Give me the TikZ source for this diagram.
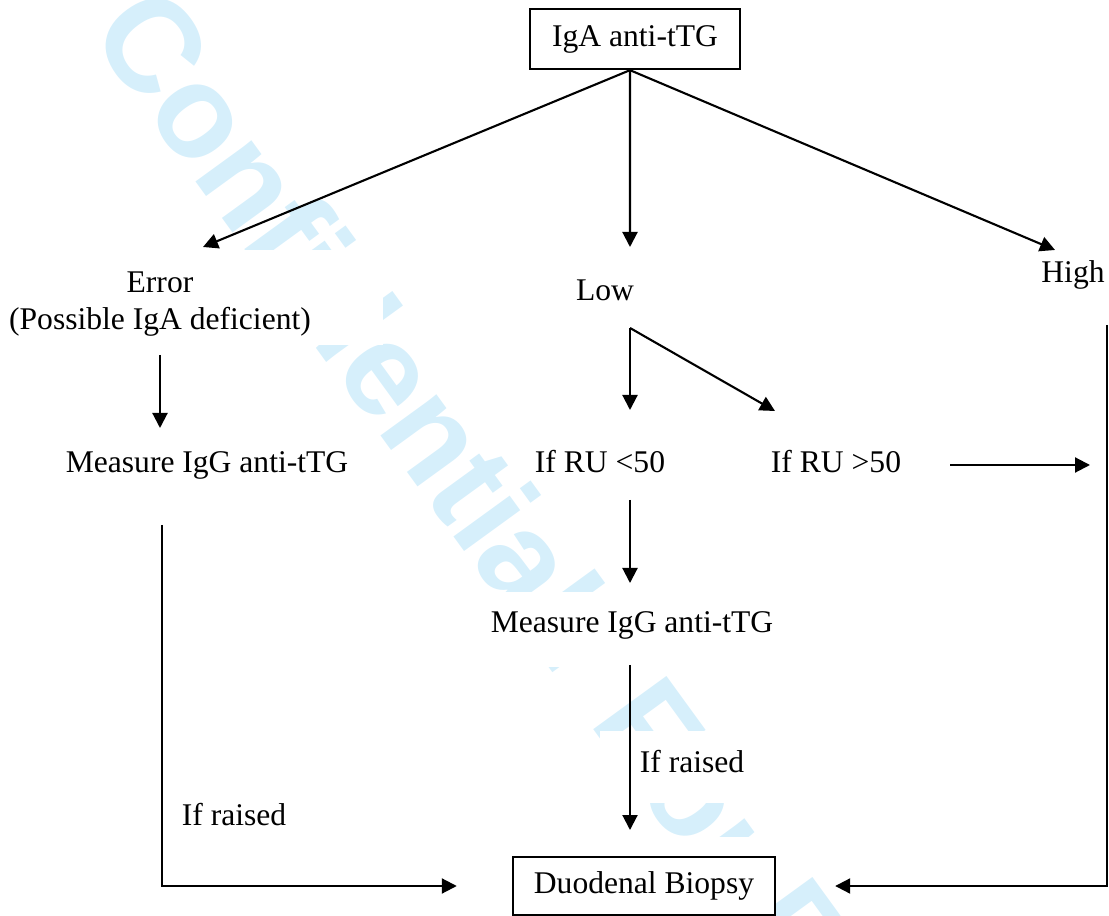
\documentclass[tikz,border=0pt]{standalone}
\usepackage{fontspec}
\setmainfont{Liberation Serif}
\newfontfamily\wmfont{Liberation Sans}
\usetikzlibrary{arrows.meta}
\definecolor{wmcyan}{RGB}{214,239,251}

\begin{document}
\begin{tikzpicture}[x=0.38pt,y=-0.38pt]
    \tikzstyle{every node}=[font=\fontsize{12}{13.8}\selectfont, inner sep=0pt]
    \tikzstyle{box}=[draw, line width=0.9pt, fill=white]
    \tikzstyle{lbl}=[align=center]
    \tikzstyle{arr}=[line width=0.8pt, -{Triangle[length=5.7pt,width=5.7pt]}]
    \tikzstyle{wmcover}=[fill=white]
    \useasboundingbox (0,0) rectangle (1109,916);
    % watermark behind the text boxes
    \node[anchor=base west, rotate=-54, text=wmcyan, font=\wmfont\bfseries\fontsize{50}{50}\selectfont] (wm) at (87,32) {Confidential: For Review Only};
    \fill[wmcover] (0,250) rectangle (383,345);
    \fill[wmcover] (30,435) rectangle (372,492);
    \fill[wmcover] (440,592) rectangle (800,667);
    \fill[wmcover] (600,731) rectangle (800,803);
    \fill[wmcover] (440,837) rectangle (775,916);
    % nodes
    \node[box, minimum width=79.8pt, minimum height=22.8pt] (top) at (635,39) {IgA anti-tTG};
    \node[lbl] (err) at (160,304) {Error\\(Possible IgA deficient)};
    \node (low) at (605,290) {Low};
    \node (high) at (1073,275) {High};
    \node (igg1) at (207,465) {Measure IgG anti-tTG};
    \node (rulo) at (600,462) {If RU <50};
    \node (ruhi) at (836,462) {If RU >50};
    \node (igg2) at (632,625) {Measure IgG anti-tTG};
    \node (raise2) at (692,762) {If raised};
    \node (raise1) at (234,815) {If raised};
    \node[box, minimum width=99.6pt, minimum height=22pt] (biopsy) at (644,886) {Duodenal Biopsy};
    % connector ends
    \coordinate (fork) at ([xshift=-1.9pt]top.south);
    \coordinate (errin) at (203,247);
    \coordinate (lowin) at (630,247);
    \coordinate (highin) at (1055,250);
    \coordinate (errout) at (160,355);
    \coordinate (igg1in) at (160,428);
    \coordinate (lowout) at (630,328);
    \coordinate (ruloin) at (630,410);
    \coordinate (ruhiin) at (775,411);
    \coordinate (ruhiout) at (950,465);
    \coordinate (highjoin) at (1090,465);
    \coordinate (highout) at (1107,325);
    \coordinate (igg1out) at (162,525);
    \coordinate (ruloout) at (630,500);
    \coordinate (igg2in) at (630,583);
    \coordinate (igg2out) at (630,665);
    \coordinate (biopsyin) at (630,830);
    % connectors
    \draw[arr] (fork) -- (errin);
    \draw[arr] (fork) -- (lowin);
    \draw[arr] (fork) -- (highin);
    \draw[arr] (errout) -- (igg1in);
    \draw[arr] (lowout) -- (ruloin);
    \draw[arr] (lowout) -- (ruhiin);
    \draw[arr] (ruhiout) -- (highjoin);
    \draw[arr] (ruloout) -- (igg2in);
    \draw[arr] (igg2out) -- (biopsyin);
    \draw[arr] (igg1out) |- ([xshift=-20.9pt]biopsy.west);
    \draw[arr] (highout) |- ([xshift=22.4pt]biopsy.east);
\end{tikzpicture}
\end{document}
